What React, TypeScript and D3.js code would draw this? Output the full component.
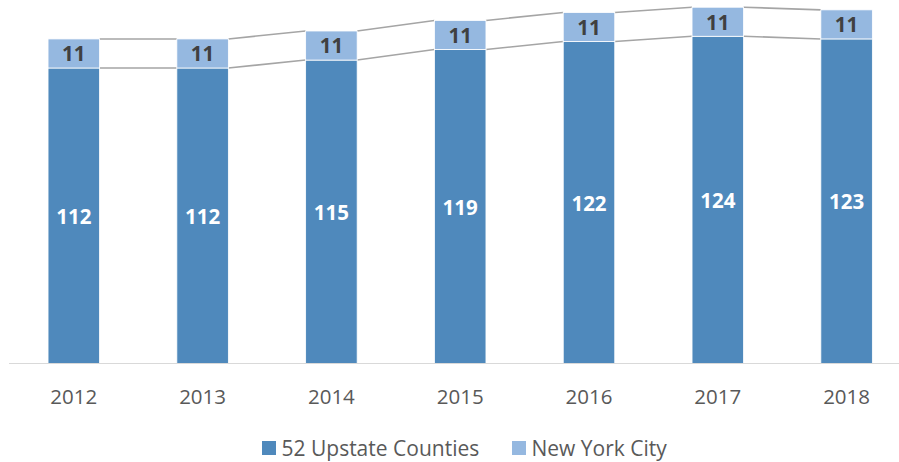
import React from "react";
import * as d3 from "d3";

const years = ["2012", "2013", "2014", "2015", "2016", "2017", "2018"];
const upstate = [112, 112, 115, 119, 122, 124, 123];
const nyc = [11, 11, 11, 11, 11, 11, 11];
const seriesNames = ["52 Upstate Counties", "New York City"];
const colors = ["#4f89bc", "#95b8e0"];

const W = 899;
const H = 462;
const FONT = "'Open Sans', 'Liberation Sans', sans-serif";

export default function App() {
  const x = d3.scaleBand<string>().domain(years).range([9.4, 911]).paddingInner(0.6).paddingOuter(0.3);
  const y = d3.scaleLinear().domain([0, 140]).range([364, -6]);
  const bw = x.bandwidth();

  const stacked = years.map((yr, i) => ({
    yr,
    b0: 0,
    b1: upstate[i],
    t0: upstate[i],
    t1: upstate[i] + nyc[i],
  }));

  const lines: { x1: number; y1: number; x2: number; y2: number }[] = [];
  for (let i = 0; i < stacked.length - 1; i++) {
    const a = stacked[i];
    const b = stacked[i + 1];
    const xa = (x(a.yr) as number) + bw;
    const xb = x(b.yr) as number;
    lines.push({ x1: xa, y1: y(a.b1), x2: xb, y2: y(b.b1) });
    lines.push({ x1: xa, y1: y(a.t1), x2: xb, y2: y(b.t1) });
  }

  return (
    <div style={{ position: "absolute", left: 0, top: 0 }}>
      <svg width={W} height={H} style={{ display: "block", background: "#fff" }}>
        {lines.map((l, i) => (
          <line key={i} x1={l.x1} y1={l.y1} x2={l.x2} y2={l.y2} stroke="#a5a5a5" strokeWidth={1.6} />
        ))}
        {stacked.map((d) => {
          const x0 = x(d.yr) as number;
          return (
            <g key={d.yr}>
              <rect x={x0} y={y(d.b1)} width={bw} height={y(d.b0) - y(d.b1)} fill={colors[0]} stroke="#fff" strokeWidth={0.8} />
              <rect x={x0} y={y(d.t1)} width={bw} height={y(d.t0) - y(d.t1)} fill={colors[1]} stroke="#fff" strokeWidth={0.8} />
              <text
                x={x0 + bw / 2}
                y={(y(d.b0) + y(d.b1)) / 2}
                dy="0.38em"
                textAnchor="middle"
                fill="#fff"
                fontFamily={FONT}
                fontWeight={700}
                fontSize={20.5}
              >
                {d.b1 - d.b0}
              </text>
              <text
                x={x0 + bw / 2}
                y={(y(d.t0) + y(d.t1)) / 2}
                dy="0.38em"
                textAnchor="middle"
                fill="#404040"
                fontFamily={FONT}
                fontWeight={700}
                fontSize={20.5}
              >
                {d.t1 - d.t0}
              </text>
            </g>
          );
        })}
        <line x1={9} x2={W} y1={363.5} y2={363.5} stroke="#d9d9d9" strokeWidth={1.2} />
        {years.map((yr) => (
          <text
            key={yr}
            x={(x(yr) as number) + bw / 2}
            y={403.5}
            textAnchor="middle"
            fill="#595959"
            fontFamily={FONT}
            fontSize={20.5}
          >
            {yr}
          </text>
        ))}
        <g>
          <rect x={262} y={441} width={14} height={14} fill={colors[0]} />
          <text x={281.5} y={456} fill="#595959" fontFamily={FONT} fontSize={21}>
            {seriesNames[0]}
          </text>
          <rect x={512} y={441} width={14} height={14} fill={colors[1]} />
          <text x={531.5} y={456} fill="#595959" fontFamily={FONT} fontSize={21}>
            {seriesNames[1]}
          </text>
        </g>
      </svg>
    </div>
  );
}
